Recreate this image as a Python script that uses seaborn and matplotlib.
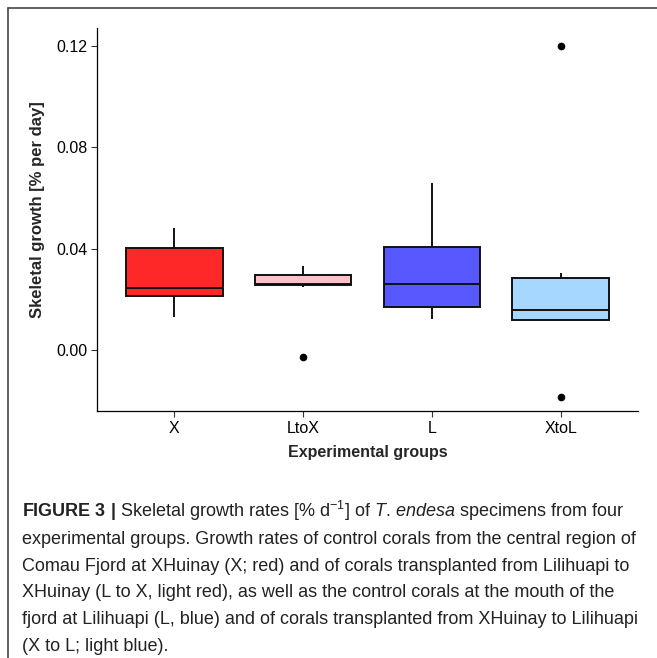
"""
Skeletal growth boxplot (Figure 3 recreation)
"""

import pandas as pd
import numpy as np
import matplotlib
matplotlib.use('Agg')
import matplotlib.pyplot as plt
from matplotlib.lines import Line2D
import seaborn as sns

# Data
groups = ['X', 'LtoX', 'L', 'XtoL']
growth_X = [0.0129, 0.0212, 0.0244, 0.0404, 0.0483]
growth_LtoX = [-0.0026, 0.0250, 0.0255, 0.0258, 0.0261, 0.0270, 0.0297, 0.0310, 0.0330]
growth_L = [0.0121, 0.0169, 0.0262, 0.0405, 0.0658]
growth_XtoL = [-0.0184, 0.0118, 0.0118, 0.0140, 0.0159, 0.0200, 0.0283, 0.0303, 0.1200]
group_colors = ['#FF2828', '#FFC0CB', '#5858FF', '#A6D7FF']
y_ticks = [0.00, 0.04, 0.08, 0.12]

caption_lines = [
    r"$\mathbf{FIGURE\ 3\ |}$ Skeletal growth rates [% d$^{-1}$] of $\mathit{T.\,endesa}$ specimens from four",
    "experimental groups. Growth rates of control corals from the central region of",
    "Comau Fjord at XHuinay (X; red) and of corals transplanted from Lilihuapi to",
    "XHuinay (L to X, light red), as well as the control corals at the mouth of the",
    "fjord at Lilihuapi (L, blue) and of corals transplanted from XHuinay to Lilihuapi",
    "(X to L; light blue).",
]

df = pd.concat([
    pd.DataFrame({'group': g, 'growth': v})
    for g, v in zip(groups, [growth_X, growth_LtoX, growth_L, growth_XtoL])
], ignore_index=True)

sns.set_theme(style='ticks')
plt.rcParams['font.family'] = ['Liberation Sans', 'DejaVu Sans']
plt.rcParams['mathtext.fontset'] = 'custom'
plt.rcParams['mathtext.rm'] = 'Liberation Sans'
plt.rcParams['mathtext.it'] = 'Liberation Sans:italic'
plt.rcParams['mathtext.bf'] = 'Liberation Sans:bold'

W, H = 657, 658
fig = plt.figure(figsize=(W / 100, H / 100), dpi=100)
ax = fig.add_axes([97 / W, 1 - 411 / H, (638 - 97) / W, (411 - 28) / H])

sns.boxplot(data=df, x='group', y='growth', hue='group', order=groups,
            hue_order=groups, palette=group_colors, width=0.75, linewidth=1.4,
            linecolor='#111111', showcaps=False, saturation=1, legend=False,
            flierprops=dict(marker='o', markerfacecolor='black',
                            markeredgecolor='black', markersize=4.5),
            ax=ax)

ax.set_xlim(-0.6, 3.6)
ax.set_ylim(-0.0241, 0.1271)
ax.set_yticks(y_ticks)
ax.set_yticklabels([f'{t:.2f}' for t in y_ticks])
ax.tick_params(axis='both', labelsize=11.5, length=4, width=0.8,
               color='#333333', labelcolor='black', pad=3)
ax.set_xlabel('Experimental groups', fontsize=11.5, fontweight='bold', labelpad=7)
ax.set_ylabel('Skeletal growth [% per day]', fontsize=12, fontweight='bold')
ax.yaxis.set_label_coords(-0.097, 0.525)
for side in ['top', 'right']:
    ax.spines[side].set_visible(False)
for side in ['left', 'bottom']:
    ax.spines[side].set_color('black')
    ax.spines[side].set_linewidth(0.9)

# Caption below the chart
caption_texts = []
for i, line in enumerate(caption_lines):
    t = fig.text(22 / W, 1 - (517 + i * 26.8) / H, line, fontsize=11.5,
                 color='#222222', ha='left', va='baseline')
    caption_texts.append(t)

# fit caption width to the reference (line 2 spans ~618 px)
fig.canvas.draw()
renderer = fig.canvas.get_renderer()
width = caption_texts[1].get_window_extent(renderer).width
scale = 618 / width
for t in caption_texts:
    t.set_fontsize(11.5 * scale)

# Frame lines around the figure panel
fig.add_artist(Line2D([8 / W, 1], [1 - 8 / H, 1 - 8 / H], transform=fig.transFigure,
                      color='#444444', lw=1.2))
fig.add_artist(Line2D([8 / W, 8 / W], [0, 1 - 8 / H], transform=fig.transFigure,
                      color='#444444', lw=1.2))

fig.savefig('out.png', dpi=100)
